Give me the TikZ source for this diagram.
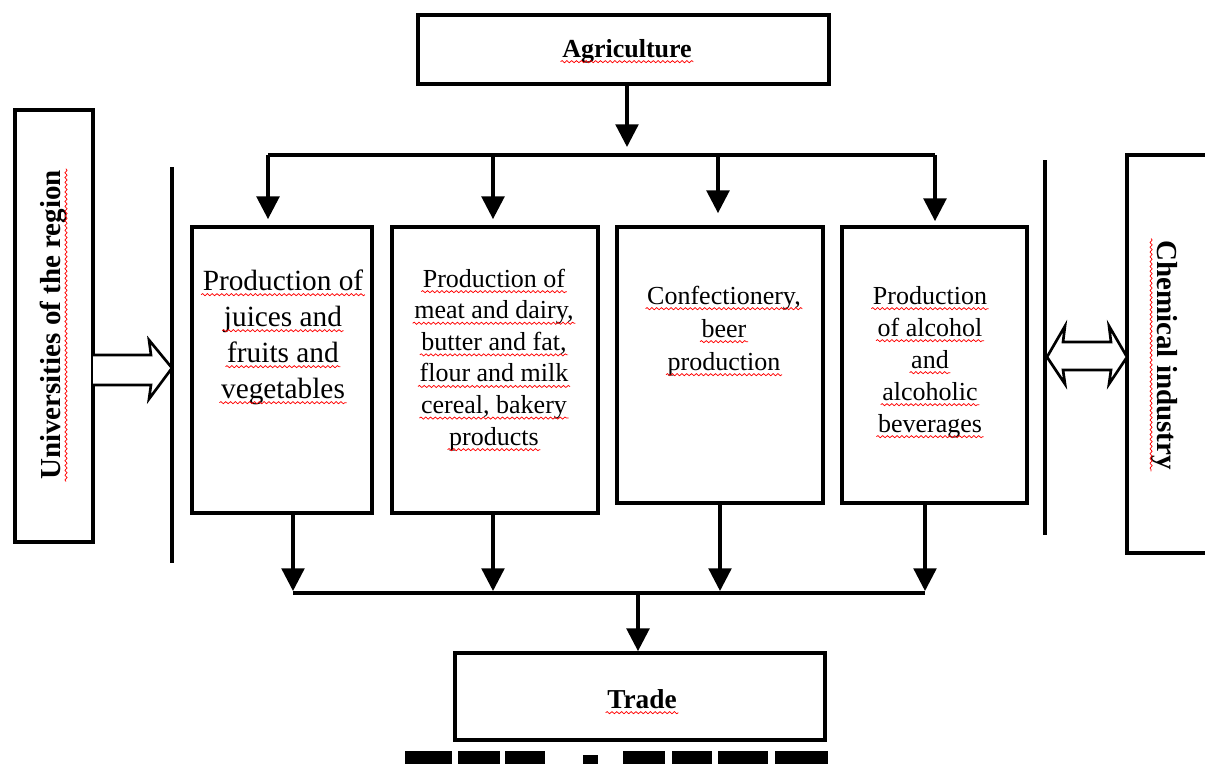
\documentclass[tikz,border=0pt]{standalone}
\usepackage{fontspec}
\setmainfont{Liberation Serif}
\usetikzlibrary{arrows.meta,fit,decorations.pathmorphing}
\begin{document}
\begin{tikzpicture}[x=0.75pt,y=-0.75pt,line width=2.5pt,
  box/.style={draw,line width=2.8pt,inner sep=0pt},
  arr/.style={-{Triangle[length=17pt,width=17pt]},line width=2.5pt},
  hollow/.style={draw,fill=white,line width=2pt,line join=miter},
  ln/.style={inner sep=0pt,anchor=base},
  fA/.style={font=\fontsize{22}{27}\selectfont},
  fB/.style={font=\fontsize{19.5}{24}\selectfont},
  btxt/.style={inner sep=0pt,font=\bfseries\fontsize{19.5}{23}\selectfont},
  wave/.style={draw=red,line width=0.55pt,decorate,decoration={snake,amplitude=0.8pt,segment length=3.6pt}},
  bar/.style={fill=black,draw=none}]
\useasboundingbox (0,0) rectangle (1205,764);
\clip (0,0) rectangle (1205,764);
% boxes
\node[box,fit={(418,15) (829,84)}] (agri) {};
\node[box,fit={(455,653) (825,740)}] (trade) {};
\node[box,fit={(15,110) (93,542)}] (univ) {};
\node[box,fit={(1127,155) (1260,553)}] (chem) {};
\node[box,fit={(192,227) (372,513)}] (b1) {};
\node[box,fit={(392,227) (598,513)}] (b2) {};
\node[box,fit={(617,227) (823,503)}] (b3) {};
\node[box,fit={(842,227) (1027,503)}] (b4) {};
% titles
\node[btxt,anchor=base] (agriT) at (627,57) {Agriculture};
\draw[wave] ([yshift=-3.5pt]agriT.base west) -- ([yshift=-3.5pt]agriT.base east);
\node[btxt,anchor=base,font=\bfseries\fontsize{20.5}{24}\selectfont] (tradeT) at (642,708) {Trade};
\draw[wave] ([yshift=-3.5pt]tradeT.base west) -- ([yshift=-3.5pt]tradeT.base east);
\node[btxt,font=\bfseries\fontsize{21.75}{24}\selectfont,rotate=90] (univT) at (53,325) {Universities of the region};
\draw[wave] ([xshift=4.5pt]univT.base west) -- ([xshift=4.5pt]univT.base east);
\node[btxt,font=\bfseries\fontsize{21.75}{24}\selectfont,rotate=-90] (chemT) at (1164,355) {Chemical industry};
\draw[wave] ([xshift=-4.5pt]chemT.base west) -- ([xshift=-4.5pt]chemT.base east);
% box texts, one node per line
\foreach \t [count=\i] in {Production of,juices and,fruits and,vegetables}{
  \node[ln,fA] (t1-\i) at (283,{290+36*(\i-1)}) {\t};
  \draw[wave] ([yshift=-3.5pt]t1-\i.base west) -- ([yshift=-3.5pt]t1-\i.base east);}
\foreach \t [count=\i] in {Production of,{meat and dairy,},{butter and fat,},flour and milk,{cereal, bakery},products}{
  \node[ln,fB] (t2-\i) at (494,{287+31.6*(\i-1)}) {\t};
  \draw[wave] ([yshift=-3.5pt]t2-\i.base west) -- ([yshift=-3.5pt]t2-\i.base east);}
\foreach \t [count=\i] in {{Confectionery,},beer,production}{
  \node[ln,fB] (t3-\i) at (724,{304+33*(\i-1)}) {\t};
  \draw[wave] ([yshift=-3.5pt]t3-\i.base west) -- ([yshift=-3.5pt]t3-\i.base east);}
\foreach \t [count=\i] in {Production,of alcohol,and,alcoholic,beverages}{
  \node[ln,fB] (t4-\i) at (930,{304+32*(\i-1)}) {\t};
  \draw[wave] ([yshift=-3.5pt]t4-\i.base west) -- ([yshift=-3.5pt]t4-\i.base east);}
% top distribution
\coordinate (sA) at (627,155);
\coordinate (s1) at (268,155);
\coordinate (s2) at (493,155);
\coordinate (s3) at (718,155);
\coordinate (s4) at (935,155);
\draw[arr,shorten >=6pt] (agri.south -| sA) -- (sA);
\draw (s1) -- (s4);
\draw[arr,shorten >=4.5pt] (s1) -- (s1 |- b1.north);
\draw[arr,shorten >=4.5pt] (s2) -- (s2 |- b2.north);
\draw[arr,shorten >=9pt] (s3) -- (s3 |- b3.north);
\draw[arr,shorten >=3pt] (s4) -- (s4 |- b4.north);
% bottom collection
\coordinate (j1) at (293,593);
\coordinate (j2) at (493,593);
\coordinate (j3) at (720,593);
\coordinate (j4) at (925,593);
\coordinate (jT) at (638,593);
\draw[arr,shorten >=1.5pt] (b1.south -| j1) -- (j1);
\draw[arr,shorten >=1.5pt] (b2.south -| j2) -- (j2);
\draw[arr,shorten >=1.5pt] (b3.south -| j3) -- (j3);
\draw[arr,shorten >=1.5pt] (b4.south -| j4) -- (j4);
\draw (j1) -- (j4);
\draw[arr] (jT) -- (trade.north -| jT);
% separators
\coordinate (lA) at (172,167);
\coordinate (lB) at (172,563);
\coordinate (rA) at (1045,160);
\coordinate (rB) at (1045,535);
\draw (lA) -- (lB);
\draw (rA) -- (rB);
% hollow arrows
\draw[hollow] (93,355) -- (151,355) -- (149,340) -- (172,368) -- (149,399) -- (151,385) -- (93,385);
\draw[hollow] (1063,342) -- (1111,342) -- (1109,326) -- (1127,357) -- (1109,384) -- (1111,370) -- (1063,370) -- (1065,384) -- (1047,357) -- (1065,326) -- cycle;
% clipped caption remnants at the bottom edge
\fill[bar] (405,751) rectangle (452,764);
\fill[bar] (458,751) rectangle (500,764);
\fill[bar] (505,751) rectangle (545,764);
\fill[bar] (583,755) rectangle (598,764);
\fill[bar] (623,751) rectangle (665,764);
\fill[bar] (672,751) rectangle (712,764);
\fill[bar] (718,751) rectangle (768,764);
\fill[bar] (775,751) rectangle (828,764);
\end{tikzpicture}
\end{document}
